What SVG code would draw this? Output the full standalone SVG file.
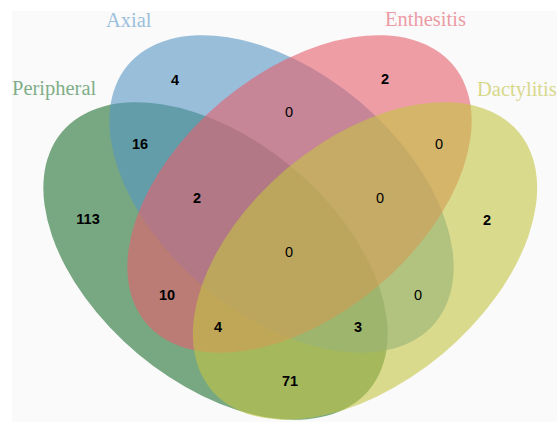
<svg xmlns="http://www.w3.org/2000/svg" width="557" height="423" viewBox="0 0 557 423">
  <style>
    .set { fill-opacity: 0.6; stroke: none; }
    .lbl { font-family: "Liberation Serif", "Times New Roman", serif; font-size: 20.5px; }
    .n { font-family: "Liberation Sans", Arial, sans-serif; font-size: 14.5px; text-anchor: middle; fill: #000; }
    .b { font-weight: bold; }
  </style>
  <rect x="0" y="0" width="557" height="423" fill="#ffffff"/>
  <rect x="12" y="11" width="545" height="411" fill="#fafafa"/>

  <g id="peripheral">
    <ellipse class="set" cx="215.5" cy="261" rx="200.5" ry="121" transform="rotate(40 215.5 261)" fill="#217132"/>
    <text class="lbl" x="12" y="95" fill="#7fae88">Peripheral</text>
  </g>
  <g id="axial">
    <ellipse class="set" cx="281.5" cy="194" rx="200.5" ry="121" transform="rotate(40 281.5 194)" fill="#5796c5"/>
    <text class="lbl" x="106" y="27" fill="#9cc0dc">Axial</text>
  </g>
  <g id="enthesitis">
    <ellipse class="set" cx="299.5" cy="194" rx="200.5" ry="121" transform="rotate(-40 299.5 194)" fill="#e65f6c"/>
    <text class="lbl" x="385" y="26" fill="#ec9aa5">Enthesitis</text>
  </g>
  <g id="dactylitis">
    <ellipse class="set" cx="365" cy="261" rx="200.5" ry="121" transform="rotate(-40 365 261)" fill="#c3c543"/>
    <text class="lbl" x="477" y="96" fill="#d8d88a">Dactylitis</text>
  </g>

  <g id="counts">
    <text class="n b" x="175" y="85">4</text>
    <text class="n b" x="385" y="84">2</text>
    <text class="n b" x="140" y="149">16</text>
    <text class="n" x="289" y="117">0</text>
    <text class="n" x="439" y="149">0</text>
    <text class="n b" x="88" y="224">113</text>
    <text class="n b" x="197" y="203">2</text>
    <text class="n" x="380" y="203">0</text>
    <text class="n b" x="487" y="225">2</text>
    <text class="n" x="289" y="257">0</text>
    <text class="n b" x="167" y="300">10</text>
    <text class="n" x="418" y="300">0</text>
    <text class="n b" x="218" y="332">4</text>
    <text class="n b" x="358" y="332">3</text>
    <text class="n b" x="290" y="386">71</text>
  </g>
</svg>
